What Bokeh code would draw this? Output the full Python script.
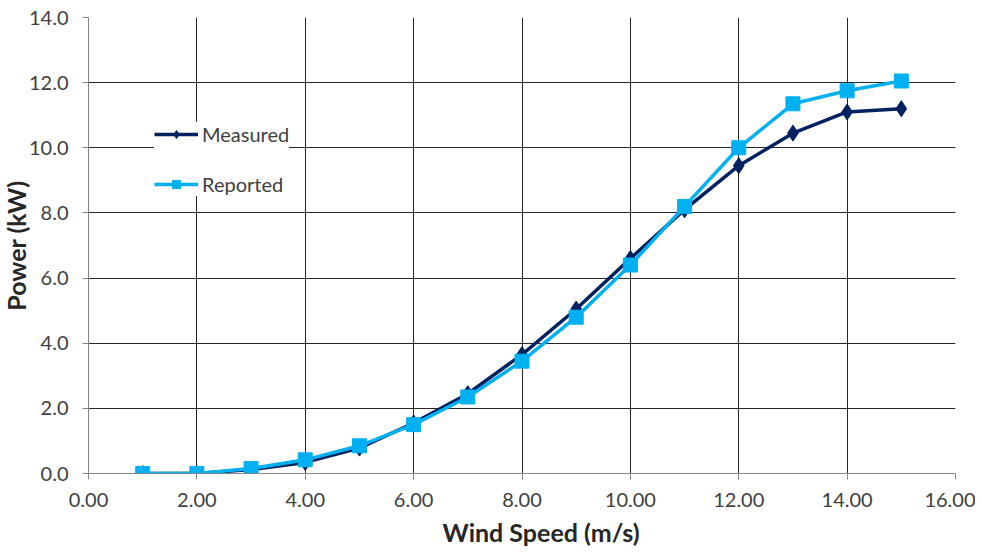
from bokeh.plotting import figure
from bokeh.models import (ColumnDataSource, Legend, LegendItem, FixedTicker,
                          NumeralTickFormatter, Title, Range1d)
from bokeh.embed import file_html
from bokeh.resources import INLINE

wind_speed = [1, 2, 3, 4, 5, 6, 7, 8, 9, 10, 11, 12, 13, 14, 15]
measured = [0.0, 0.0, 0.12, 0.34, 0.78, 1.55, 2.45, 3.65, 5.05, 6.6, 8.1, 9.45, 10.45, 11.1, 11.2]
reported = [0.0, 0.0, 0.15, 0.42, 0.85, 1.5, 2.35, 3.45, 4.8, 6.4, 8.2, 10.0, 11.35, 11.75, 12.05]
x_ticks = [0, 2, 4, 6, 8, 10, 12, 14, 16]
y_ticks = [0, 2, 4, 6, 8, 10, 12, 14]
series_names = ["Measured", "Reported"]
x_title = "Wind Speed (m/s)"
y_title = "Power (kW)"

FONT = "Lato"
TEXT = "#404040"
NAVY = "#002060"
CYAN = "#00B0F0"

src = ColumnDataSource(dict(x=wind_speed, m=measured, r=reported))

p = figure(width=975, height=552, output_backend="svg", toolbar_location=None,
           x_range=Range1d(0, 16), y_range=Range1d(0, 14),
           min_border_left=88, min_border_right=20, min_border_top=17, min_border_bottom=78,
           background_fill_color="white", border_fill_color="white")
p.outline_line_color = None

for ax, ticks, fmt in ((p.xaxis[0], x_ticks, "0.00"), (p.yaxis[0], y_ticks, "0.0")):
    ax.ticker = FixedTicker(ticks=ticks)
    ax.formatter = NumeralTickFormatter(format=fmt)
    ax.axis_line_color = "#868686"
    ax.major_tick_line_color = "#868686"
    ax.major_tick_out = 6
    ax.major_tick_in = 0
    ax.minor_tick_line_color = None
    ax.major_label_text_font = FONT
    ax.major_label_text_font_size = "20px"
    ax.major_label_text_color = TEXT
p.xaxis[0].major_label_standoff = 13
p.yaxis[0].major_label_standoff = 14

for g in (p.xgrid[0], p.ygrid[0]):
    g.grid_line_color = "#262626"
    g.grid_line_width = 1
    g.grid_line_alpha = 1.0
p.xgrid[0].ticker = FixedTicker(ticks=x_ticks)
p.ygrid[0].ticker = FixedTicker(ticks=y_ticks)

lm = p.line("x", "m", source=src, line_color=NAVY, line_width=3.5)
sm = p.scatter("x", "m", source=src, marker="diamond", size=16, fill_color=NAVY, line_color=NAVY)
lr = p.line("x", "r", source=src, line_color=CYAN, line_width=3.5)
sr = p.scatter("x", "r", source=src, marker="square", size=14, fill_color=CYAN, line_color=CYAN)

legend = Legend(items=[LegendItem(label=series_names[0], renderers=[lm, sm]),
                       LegendItem(label=series_names[1], renderers=[lr, sr])],
                location=(66, 277), orientation="vertical",
                background_fill_color="white", background_fill_alpha=1.0,
                border_line_color=None, padding=18, margin=0, spacing=26,
                glyph_width=44, glyph_height=20, label_height=20, label_standoff=4,
                label_text_font=FONT, label_text_font_size="20px", label_text_color=TEXT)
p.add_layout(legend, "center")

xt = Title(text=x_title, align="left", offset=354, text_font=FONT, text_font_size="25px",
           text_font_style="bold", text_color="#262626", standoff=11)
p.add_layout(xt, "below")
yt = Title(text=y_title, align="center", text_font=FONT, text_font_size="25px",
           text_font_style="bold", text_color="#262626", standoff=-11)
p.add_layout(yt, "left")

open("out.html", "w").write(file_html(p, INLINE))
